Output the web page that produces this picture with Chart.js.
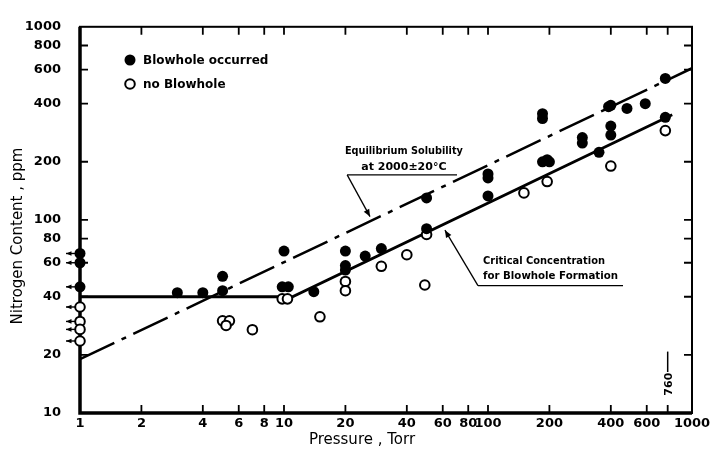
<!DOCTYPE html>
<html lang="en">
<head>
<meta charset="UTF-8" />
<title>Nitrogen Content vs Pressure</title>
<style>
  * { margin: 0; padding: 0; box-sizing: border-box; }
  body { width: 725px; height: 453px; background: #ffffff; overflow: hidden; }
  .wrapper { position: relative; width: 725px; height: 453px; }
</style>
</head>
<body>
<div class="wrapper"><canvas id="chart" width="725" height="453"></canvas></div>
<script src="https://cdn.jsdelivr.net/npm/chart.js@4.4.1/dist/chart.umd.min.js"></script>
<script>
// tick labels
const xTickValues = [1, 2, 4, 6, 8, 10, 20, 40, 60, 80, 100, 200, 400, 600, 1000];
const yTickValues = [10, 20, 40, 60, 80, 100, 200, 400, 600, 800, 1000];

// Blowhole occurred (filled)
const blowX = [1, 1, 1, 3, 4, 5, 5, 9.8, 10, 10.5, 14, 20, 20, 20, 25, 30, 50, 50, 100, 100, 100, 185, 185, 185, 195, 200, 290, 290, 350, 390, 400, 400, 400, 480, 590, 740, 740];
const blowY = [67, 60, 45, 42, 42, 51, 43, 45, 69, 45, 42.5, 69, 58, 55, 65, 71, 130, 90, 173, 165, 133, 355, 335, 200, 205, 200, 267, 250, 224, 386, 392, 306, 275, 378, 400, 540, 340];

// no Blowhole (open)
const noBlowX = [1, 1, 1, 1, 5, 5.4, 5.2, 7, 9.8, 10.4, 15, 20, 20, 30, 40, 50, 49, 150, 195, 400, 740];
const noBlowY = [35.4, 29.8, 27.1, 23.6, 30, 30, 28.4, 27, 39, 39, 31.5, 48, 43, 57.5, 66, 84, 46, 138, 158, 190, 290];

// critical concentration (solid) and equilibrium solubility (dash-dot)
const criticalX = [1, 11, 800];
const criticalY = [40, 40, 350];
const equilibriumX = [1, 1000];
const equilibriumY = [19, 610];

const toPoints = (xs, ys) => xs.map((v, i) => ({ x: v, y: ys[i] }));

const FONT = "'DejaVu Sans', sans-serif";

function arrow(ctx, x1, y1, x2, y2, head) {
    ctx.beginPath();
    ctx.moveTo(x1, y1);
    ctx.lineTo(x2, y2);
    ctx.stroke();
    const ang = Math.atan2(y2 - y1, x2 - x1);
    ctx.beginPath();
    ctx.moveTo(x2, y2);
    ctx.lineTo(x2 - head * Math.cos(ang - 0.4), y2 - head * Math.sin(ang - 0.4));
    ctx.lineTo(x2 - head * Math.cos(ang + 0.4), y2 - head * Math.sin(ang + 0.4));
    ctx.closePath();
    ctx.fill();
}

const frame = {
    id: "frame",
    beforeDatasetsDraw(chart) {
        const { ctx, chartArea: a, scales: { x, y } } = chart;
        ctx.save();
        ctx.strokeStyle = "#000";
        ctx.lineWidth = 2;
        ctx.strokeRect(a.left, a.top, a.right - a.left, a.bottom - a.top);
        ctx.lineWidth = 3.5;
        ctx.beginPath();
        ctx.moveTo(a.left, a.top);
        ctx.lineTo(a.left, a.bottom);
        ctx.lineTo(a.right, a.bottom);
        ctx.stroke();

        // inward ticks
        ctx.lineWidth = 1.8;
        ctx.beginPath();
        xTickValues.concat([760]).forEach(v => {
            if (v <= 1 || v >= 1000) return;
            const p = x.getPixelForValue(v);
            ctx.moveTo(p, a.bottom); ctx.lineTo(p, a.bottom - 8);
            ctx.moveTo(p, a.top); ctx.lineTo(p, a.top + 8);
        });
        yTickValues.forEach(v => {
            if (v <= 10 || v >= 1000) return;
            const p = y.getPixelForValue(v);
            ctx.moveTo(a.left, p); ctx.lineTo(a.left + 8, p);
            ctx.moveTo(a.right, p); ctx.lineTo(a.right - 8, p);
        });
        ctx.stroke();
        ctx.restore();
    },
    afterDatasetsDraw(chart) {
        const { ctx, chartArea: a, scales: { x, y } } = chart;
        const px = v => x.getPixelForValue(v);
        const py = v => y.getPixelForValue(v);
        ctx.save();
        ctx.strokeStyle = "#000";
        ctx.fillStyle = "#000";

        // "below 1 Torr" arrows on the points at x = 1
        ctx.lineWidth = 1.4;
        blowX.forEach((v, i) => { if (v === 1) arrow(ctx, a.left - 5, py(blowY[i]), a.left - 14, py(blowY[i]), 6); });
        noBlowX.forEach((v, i) => { if (v === 1) arrow(ctx, a.left - 5, py(noBlowY[i]), a.left - 14, py(noBlowY[i]), 6); });

        // legend
        ctx.beginPath();
        ctx.arc(130, 60, 5.5, 0, Math.PI * 2);
        ctx.fill();
        ctx.beginPath();
        ctx.lineWidth = 2;
        ctx.arc(130, 84, 4.8, 0, Math.PI * 2);
        ctx.stroke();
        ctx.font = "bold 12px " + FONT;
        ctx.textBaseline = "middle";
        ctx.textAlign = "left";
        ctx.fillText("Blowhole occurred", 143, 61, 130);
        ctx.fillText("no Blowhole", 143, 85, 86);

        // equilibrium note
        ctx.font = "bold 11px " + FONT;
        ctx.textAlign = "center";
        ctx.fillText("Equilibrium Solubility", px(38.7), py(226), 118);
        ctx.fillText("at 2000\u00b120\u00b0C", px(38.7), py(188), 93);
        ctx.lineWidth = 1.3;
        ctx.beginPath();
        ctx.moveTo(px(20.4), py(171));
        ctx.lineTo(px(70.5), py(171));
        ctx.stroke();
        arrow(ctx, px(20.4), py(171), px(26.4), py(104), 8);

        // critical note
        ctx.textAlign = "left";
        ctx.fillText("Critical Concentration", px(94.5), py(61), 122);
        ctx.fillText("for Blowhole Formation", px(94.5), py(51.3), 135);
        ctx.beginPath();
        ctx.moveTo(px(459), py(45.7));
        ctx.lineTo(px(89.3), py(45.7));
        ctx.stroke();
        arrow(ctx, px(89.3), py(45.7), px(61.5), py(88.5), 8);

        // 760 Torr marker
        const m = px(760);
        ctx.lineWidth = 1.5;
        ctx.beginPath();
        ctx.moveTo(m, py(20.8));
        ctx.lineTo(m, py(16.3));
        ctx.stroke();
        ctx.save();
        ctx.translate(m + 1, py(14.1));
        ctx.rotate(-Math.PI / 2);
        ctx.font = "bold 11px " + FONT;
        ctx.textAlign = "center";
        ctx.fillText("760", 0, 0);
        ctx.restore();

        // axis titles
        ctx.font = "15px " + FONT;
        ctx.textAlign = "center";
        ctx.fillText("Pressure , Torr", 362, 440);
        ctx.save();
        ctx.translate(18, 236);
        ctx.rotate(-Math.PI / 2);
        ctx.fillText("Nitrogen Content , ppm", 0, 0);
        ctx.restore();
        ctx.restore();
    }
};

const setTicks = values => scale => { scale.ticks = values.map(v => ({ value: v })); };

new Chart(document.getElementById("chart"), {
    type: "scatter",
    data: {
        datasets: [
            {
                label: "Blowhole occurred",
                data: toPoints(blowX, blowY),
                pointRadius: 5.5,
                pointBackgroundColor: "#000",
                pointBorderColor: "#000",
                pointBorderWidth: 0,
                clip: false
            },
            {
                label: "no Blowhole",
                data: toPoints(noBlowX, noBlowY),
                pointRadius: 4.8,
                pointBackgroundColor: "#fff",
                pointBorderColor: "#000",
                pointBorderWidth: 2,
                clip: false
            },
            {
                label: "Critical Concentration",
                data: toPoints(criticalX, criticalY),
                showLine: true,
                borderColor: "#000",
                borderWidth: 2.8,
                pointRadius: 0
            },
            {
                label: "Equilibrium Solubility",
                data: toPoints(equilibriumX, equilibriumY),
                showLine: true,
                borderColor: "#000",
                borderWidth: 2.5,
                borderDash: [38, 8, 5, 8],
                pointRadius: 0
            }
        ]
    },
    options: {
        responsive: false,
        animation: false,
        layout: { padding: { left: 0, top: 16, right: 33, bottom: 0 } },
        plugins: { legend: { display: false }, tooltip: { enabled: false } },
        scales: {
            x: {
                type: "logarithmic",
                min: 1,
                max: 1000,
                afterBuildTicks: setTicks(xTickValues),
                afterFit: s => { s.height = 40; },
                grid: { display: false, drawTicks: false },
                border: { display: false },
                ticks: {
                    autoSkip: false,
                    maxRotation: 0,
                    padding: 3,
                    color: "#000",
                    font: { family: FONT, size: 13, weight: "bold" },
                    callback: v => String(v)
                }
            },
            y: {
                type: "logarithmic",
                min: 10,
                max: 1000,
                afterBuildTicks: setTicks(yTickValues),
                afterFit: s => { s.width = 80; },
                grid: { display: false, drawTicks: false },
                border: { display: false },
                ticks: {
                    autoSkip: false,
                    padding: 19,
                    color: "#000",
                    font: { family: FONT, size: 13, weight: "bold" },
                    callback: v => String(v)
                }
            }
        }
    },
    plugins: [frame]
});
</script>
</body>
</html>
